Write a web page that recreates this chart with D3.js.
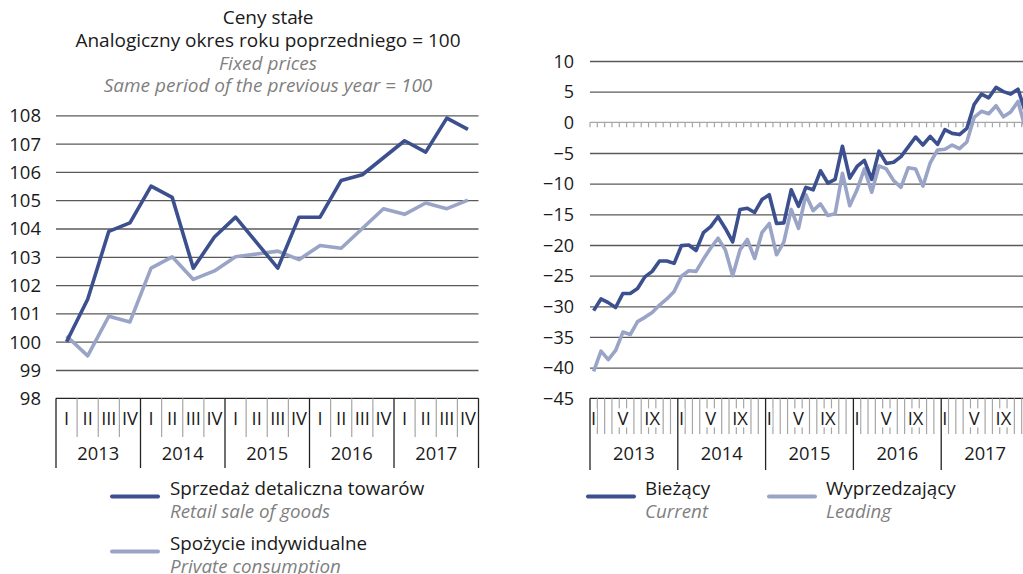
<!DOCTYPE html>
<html>
<head>
<meta charset="utf-8">
<script src="https://cdn.jsdelivr.net/npm/d3@7"></script>
<style>
  html, body { margin: 0; padding: 0; background: #fff; overflow: hidden; }
  svg { display: block; font-family: "Open Sans", "Noto Sans", sans-serif; }
</style>
</head>
<body>
<svg id="chart" width="1023" height="574"></svg>
<script>
// ---------------- DATA ----------------
const years = ["2013", "2014", "2015", "2016", "2017"];
const quarterLabels = ["I", "II", "III", "IV"];
const monthLabels = ["I", "", "", "", "V", "", "", "", "IX", "", "", ""];

// Left panel: quarterly, same period of previous year = 100
const retailSales = [100.0, 101.5, 103.9, 104.2, 105.5, 105.1, 102.6, 103.7,
                     104.4, 103.5, 102.6, 104.4, 104.4, 105.7, 105.9, 106.5,
                     107.1, 106.7, 107.9, 107.5];
const privateConsumption = [100.2, 99.5, 100.9, 100.7, 102.6, 103.0, 102.2, 102.5,
                            103.0, 103.1, 103.2, 102.9, 103.4, 103.3, 104.0, 104.7,
                            104.5, 104.9, 104.7, 105.0];
const leftTicks = [98, 99, 100, 101, 102, 103, 104, 105, 106, 107, 108];

// Right panel: monthly indicators
const currentIndicator = [-30.7, -28.8, -29.4, -30.2, -27.9, -27.9, -27.1, -25.2, -24.3, -22.6, -22.6, -23.0,
                          -20.1, -20.0, -20.9, -18.0, -17.0, -15.4, -17.3, -19.5, -14.2, -14.0, -14.7, -12.6,
                          -11.8, -16.5, -16.4, -11.0, -13.7, -10.6, -11.0, -7.9, -9.9, -9.3, -3.9, -9.1,
                          -7.2, -6.2, -9.3, -4.7, -6.7, -6.5, -5.6, -4.0, -2.4, -3.7, -2.3, -3.6,
                          -1.2, -1.8, -2.0, -1.0, 2.9, 4.6, 4.0, 5.7, 5.0, 4.6, 5.4, 1.7];
const leadingIndicator = [-40.6, -37.3, -38.7, -37.2, -34.2, -34.6, -32.5, -31.8, -31.0, -29.8, -28.8, -27.6,
                          -25.1, -24.2, -24.3, -22.3, -20.5, -18.9, -20.8, -25.0, -20.8, -19.1, -22.2, -18.0,
                          -16.5, -21.6, -19.5, -14.2, -17.3, -11.8, -14.4, -13.3, -15.2, -14.9, -8.3, -13.6,
                          -11.0, -7.6, -11.4, -7.1, -7.6, -9.5, -10.6, -7.4, -7.6, -10.4, -6.6, -4.5,
                          -4.4, -3.7, -4.3, -3.2, 0.8, 1.8, 1.4, 2.7, 0.9, 1.7, 3.4, -1.0];
const rightTicks = [-45, -40, -35, -30, -25, -20, -15, -10, -5, 0, 5, 10];

// ---------------- STYLE ----------------
const DARK = "#3c4f8e";
const LIGHT = "#99a4c7";
const GRID = "#5a5a5a";
const TICKGRAY = "#a6a6a6";
const GRAYTEXT = "#7f7f7f";
const TXT = "#1a1a1a";
const FS_TITLE = 19;
const FS_LEG = 18.8;
const FS_CAT = 18.3;

const svg = d3.select("#chart");

// ================= LEFT PANEL =================
const L = { x0: 56, x1: 478.5, yTop: 115.3, yBot: 398.3, qTickBot: 437, yearBot: 468 };
const quarterIdx = d3.range(years.length * 4);
const xL = d3.scaleBand().domain(quarterIdx).range([L.x0, L.x1]);
const yL = d3.scaleLinear().domain([98, 108]).range([L.yBot, L.yTop]);

// titles
const title = svg.append("g").attr("text-anchor", "middle");
title.append("text").attr("x", 268).attr("y", 24).attr("font-size", FS_TITLE).attr("fill", TXT).text("Ceny stałe");
title.append("text").attr("x", 268).attr("y", 47).attr("font-size", FS_TITLE).attr("fill", TXT).text("Analogiczny okres roku poprzedniego = 100");
title.append("text").attr("x", 268).attr("y", 70).attr("font-size", FS_TITLE).attr("font-style", "italic").attr("fill", GRAYTEXT).text("Fixed prices");
title.append("text").attr("x", 268).attr("y", 92).attr("font-size", FS_TITLE).attr("font-style", "italic").attr("fill", GRAYTEXT).text("Same period of the previous year = 100");

// gridlines
const gL = svg.append("g").attr("transform", `translate(${L.x0},0)`)
  .call(d3.axisLeft(yL).tickValues(leftTicks.filter(v => v > 98)).tickSize(-(L.x1 - L.x0)).tickFormat(""));
gL.select(".domain").remove();
gL.selectAll(".tick line").attr("stroke", GRID).attr("stroke-width", 1.3);

// y labels
const yLabL = svg.append("g").attr("transform", `translate(41,0)`)
  .call(d3.axisLeft(yL).tickValues(leftTicks).tickSize(0).tickPadding(0));
yLabL.select(".domain").remove();
yLabL.selectAll("text").attr("font-size", 18.5).attr("fill", TXT).attr("font-family", "Open Sans").attr("dy", "0.35em");

// category box
const boxL = svg.append("g");
boxL.append("line").attr("x1", L.x0).attr("x2", L.x1).attr("y1", L.yBot).attr("y2", L.yBot).attr("stroke", "#222").attr("stroke-width", 1.3);
quarterIdx.forEach(i => {
  const xb = xL(i);
  if (i % 4 !== 0) boxL.append("line").attr("x1", xb).attr("x2", xb).attr("y1", L.yBot).attr("y2", L.qTickBot).attr("stroke", TICKGRAY).attr("stroke-width", 1.2);
});
d3.range(years.length + 1).forEach(k => {
  const xb = k < years.length ? xL(k * 4) : L.x1;
  boxL.append("line").attr("x1", xb).attr("x2", xb).attr("y1", L.yBot).attr("y2", L.yearBot).attr("stroke", "#222").attr("stroke-width", 1.3);
});
boxL.selectAll(".ql").data(quarterIdx).enter().append("text")
  .attr("x", i => xL(i) + xL.bandwidth() / 2).attr("y", 419).attr("dy", "0.35em")
  .attr("text-anchor", "middle").attr("font-size", FS_CAT).attr("fill", TXT)
  .text(i => quarterLabels[i % 4]);
boxL.selectAll(".yl").data(years).enter().append("text")
  .attr("x", (d, k) => xL(k * 4) + xL.bandwidth() * 2).attr("y", 454).attr("dy", "0.35em")
  .attr("text-anchor", "middle").attr("font-size", FS_CAT).attr("fill", TXT).text(d => d);

// lines
const lineL = d3.line().x((d, i) => xL(i) + xL.bandwidth() / 2).y(d => yL(d));
svg.append("path").datum(privateConsumption).attr("d", lineL).attr("fill", "none")
  .attr("stroke", LIGHT).attr("stroke-width", 3.6).attr("stroke-linejoin", "round");
svg.append("path").datum(retailSales).attr("d", lineL).attr("fill", "none")
  .attr("stroke", DARK).attr("stroke-width", 3.6).attr("stroke-linejoin", "round");

// legend left
const legL = svg.append("g");
[[DARK, "Sprzedaż detaliczna towarów", "Retail sale of goods", 496.5],
 [LIGHT, "Spożycie indywidualne", "Private consumption", 551.5]].forEach(([c, pl, en, yy]) => {
  legL.append("line").attr("x1", 112).attr("x2", 158).attr("y1", yy).attr("y2", yy)
    .attr("stroke", c).attr("stroke-width", 4).attr("stroke-linecap", "round");
  legL.append("text").attr("x", 170).attr("y", yy - 1.5).attr("font-size", FS_LEG).attr("fill", TXT).text(pl);
  legL.append("text").attr("x", 170).attr("y", yy + 21.5).attr("font-size", FS_LEG).attr("font-style", "italic").attr("fill", GRAYTEXT).text(en);
});

// ================= RIGHT PANEL =================
const R = { x0: 590, x1: 1029, yTop: 61, yBot: 398.3, mTickBot: 434, yearBot: 470 };
const monthIdx = d3.range(years.length * 12);
const xR = d3.scaleBand().domain(monthIdx).range([R.x0, R.x1]);
const yR = d3.scaleLinear().domain([-45, 10]).range([R.yBot, R.yTop]);

const gR = svg.append("g").attr("transform", `translate(${R.x0},0)`)
  .call(d3.axisLeft(yR).tickValues(rightTicks.filter(v => v > -45 && v !== 0)).tickSize(-(R.x1 - R.x0)).tickFormat(""));
gR.select(".domain").remove();
gR.selectAll(".tick line").attr("stroke", GRID).attr("stroke-width", 1.3);

// zero line with month ticks
const zeroG = svg.append("g").attr("transform", `translate(0,${yR(0)})`)
  .call(d3.axisBottom(xR).tickValues(monthIdx).tickSize(5).tickFormat(""));
zeroG.select(".domain").remove();
zeroG.selectAll(".tick line").attr("stroke", TICKGRAY).attr("stroke-width", 1.2)
  .attr("transform", `translate(${-xR.bandwidth() / 2},0)`);
zeroG.append("line").attr("x1", R.x0).attr("x2", R.x1).attr("y1", 0).attr("y2", 0).attr("stroke", TICKGRAY).attr("stroke-width", 1.4);

const yLabR = svg.append("g").attr("transform", `translate(574,0)`)
  .call(d3.axisLeft(yR).tickValues(rightTicks).tickSize(0).tickPadding(0));
yLabR.select(".domain").remove();
yLabR.selectAll("text").attr("font-size", 18).attr("fill", TXT).attr("font-family", "Open Sans").attr("dy", "0.35em");

// category box
const boxR = svg.append("g");
boxR.append("line").attr("x1", R.x0).attr("x2", R.x1).attr("y1", R.yBot).attr("y2", R.yBot).attr("stroke", "#222").attr("stroke-width", 1.3);
monthIdx.forEach(i => {
  if (i % 12 !== 0) boxR.append("line").attr("x1", xR(i)).attr("x2", xR(i)).attr("y1", R.yBot).attr("y2", R.mTickBot).attr("stroke", TICKGRAY).attr("stroke-width", 1.2);
});
const mlab = boxR.selectAll(".ml").data(monthIdx.filter(i => monthLabels[i % 12] !== "")).enter().append("g");
mlab.append("text")
  .attr("x", i => xR(i) + xR.bandwidth() / 2).attr("y", 419).attr("dy", "0.35em")
  .attr("text-anchor", "middle").attr("font-size", FS_CAT).attr("fill", TXT)
  .text(i => monthLabels[i % 12]);
mlab.each(function () {
  const t = d3.select(this).select("text");
  const bb = t.node().getBBox();
  d3.select(this).insert("rect", "text").attr("x", bb.x - 0.5).attr("y", bb.y + 3).attr("width", bb.width + 1).attr("height", bb.height - 6).attr("fill", "#fff");
});
d3.range(years.length + 1).forEach(k => {
  const xb = k < years.length ? xR(k * 12) : R.x1;
  boxR.append("line").attr("x1", xb).attr("x2", xb).attr("y1", R.yBot).attr("y2", R.yearBot).attr("stroke", "#222").attr("stroke-width", 1.3);
});
boxR.selectAll(".yl").data(years).enter().append("text")
  .attr("x", (d, k) => xR(k * 12) + xR.bandwidth() * 6).attr("y", 454).attr("dy", "0.35em")
  .attr("text-anchor", "middle").attr("font-size", FS_CAT).attr("fill", TXT).text(d => d);

const lineR = d3.line().x((d, i) => xR(i) + xR.bandwidth() / 2).y(d => yR(d));
svg.append("path").datum(leadingIndicator).attr("d", lineR).attr("fill", "none")
  .attr("stroke", LIGHT).attr("stroke-width", 3.6).attr("stroke-linejoin", "round");
svg.append("path").datum(currentIndicator).attr("d", lineR).attr("fill", "none")
  .attr("stroke", DARK).attr("stroke-width", 3.6).attr("stroke-linejoin", "round");

// legend right
const legR = svg.append("g");
[[DARK, "Bieżący", "Current", 588, 645], [LIGHT, "Wyprzedzający", "Leading", 769, 826]].forEach(([c, pl, en, lx, tx]) => {
  const yy = 496.5;
  legR.append("line").attr("x1", lx).attr("x2", lx + 46).attr("y1", yy).attr("y2", yy)
    .attr("stroke", c).attr("stroke-width", 4).attr("stroke-linecap", "round");
  legR.append("text").attr("x", tx).attr("y", yy - 1.5).attr("font-size", FS_LEG).attr("fill", TXT).text(pl);
  legR.append("text").attr("x", tx).attr("y", yy + 21.5).attr("font-size", FS_LEG).attr("font-style", "italic").attr("fill", GRAYTEXT).text(en);
});
</script>
</body>
</html>
